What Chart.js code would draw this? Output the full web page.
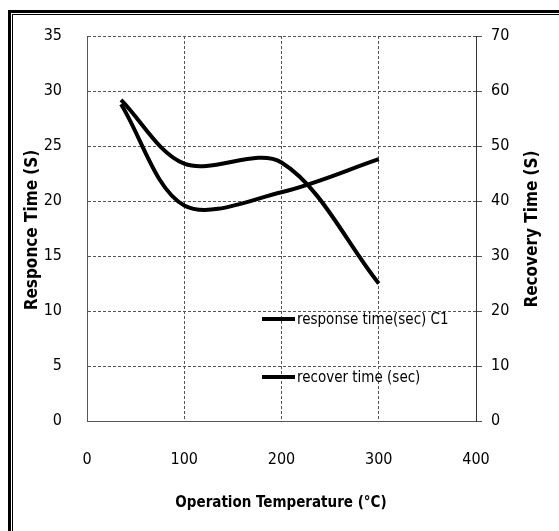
<!DOCTYPE html>
<html>
<head>
<meta charset="utf-8">
<script src="https://cdn.jsdelivr.net/npm/chart.js@4/dist/chart.umd.min.js"></script>
<style>
  body { margin: 0; background: #fff; }
  #wrap { width: 559px; height: 531px; }
</style>
</head>
<body>
<div id="wrap"><canvas id="chart" width="559" height="531"></canvas></div>
<script>
// values
const temperatures = [35, 100, 200, 300];
const responseTimes = [29.2, 23.4, 23.5, 12.5];
const recoveryTimes = [57.6, 39.2, 41.6, 47.6];

const seriesLabels = ['response time(sec) C1', 'recover time (sec)'];
const xTitle = 'Operation Temperature (\u00B0C)';
const leftTitle = 'Responce Time (S)';
const rightTitle = 'Recovery Time (S)';

const fontFamily = "'DejaVu Sans Condensed', sans-serif";
const gridColor = '#555';

function toPoints(xs, ys) {
    return xs.map((x, i) => ({ x: x, y: ys[i] }));
}

// frame, axis titles and the in-plot legend
const decorPlugin = {
    id: 'decor',
    afterDraw(chart) {
        const ctx = chart.ctx;
        ctx.save();
        // double frame on top and left
        ctx.fillStyle = '#000';
        ctx.fillRect(8, 10, 551, 3);
        ctx.fillRect(8, 10, 3, 521);
        ctx.fillRect(12, 14, 547, 1);
        ctx.fillRect(12, 14, 1, 517);

        ctx.fillStyle = '#000';
        ctx.font = 'bold 15px ' + fontFamily;
        ctx.textAlign = 'center';
        ctx.textBaseline = 'middle';
        ctx.fillText(xTitle, 281, 503);

        ctx.font = 'bold 17px ' + fontFamily;
        ctx.save();
        ctx.translate(33, 230);
        ctx.rotate(-Math.PI / 2);
        ctx.fillText(leftTitle, 0, 0);
        ctx.restore();

        ctx.save();
        ctx.translate(533, 229);
        ctx.rotate(-Math.PI / 2);
        ctx.fillText(rightTitle, 0, 0);
        ctx.restore();

        // legend entries inside the plot
        const legendY = [319, 377];
        ctx.font = '15px ' + fontFamily;
        ctx.textAlign = 'left';
        chart.data.datasets.forEach((ds, i) => {
            ctx.strokeStyle = ds.borderColor;
            ctx.lineWidth = 4;
            ctx.beginPath();
            ctx.moveTo(262, legendY[i]);
            ctx.lineTo(295, legendY[i]);
            ctx.stroke();
            ctx.fillText(ds.label, 297, legendY[i] + 1);
        });
        ctx.restore();
    }
};

const ctx = document.getElementById('chart').getContext('2d');
new Chart(ctx, {
    type: 'line',
    data: {
        datasets: [{
            label: seriesLabels[0],
            data: toPoints(temperatures, responseTimes),
            yAxisID: 'y',
            borderColor: '#000',
            borderWidth: 4,
            pointRadius: 0,
            tension: 0.33,
            fill: false
        }, {
            label: seriesLabels[1],
            data: toPoints(temperatures, recoveryTimes),
            yAxisID: 'y1',
            borderColor: '#000',
            borderWidth: 4,
            pointRadius: 0,
            tension: 0.33,
            fill: false
        }]
    },
    options: {
        responsive: false,
        animation: false,
        layout: { padding: { top: 36, left: 0, right: 0, bottom: 0 } },
        plugins: {
            legend: { display: false },
            tooltip: { enabled: false }
        },
        scales: {
            x: {
                type: 'linear',
                min: 0,
                max: 400,
                afterFit: scale => { scale.height = 110; },
                ticks: {
                    stepSize: 100,
                    padding: 29,
                    color: '#000',
                    font: { family: fontFamily, size: 16 }
                },
                grid: {
                    color: gridColor,
                    lineWidth: 1,
                    drawTicks: false
                },
                border: { display: true, color: '#555', width: 1, dash: [3, 2] }
            },
            y: {
                position: 'left',
                min: 0,
                max: 35,
                afterFit: scale => { scale.width = 87; },
                ticks: {
                    stepSize: 5,
                    padding: 25,
                    color: '#000',
                    font: { family: fontFamily, size: 16 }
                },
                grid: {
                    color: gridColor,
                    lineWidth: 1,
                    drawTicks: false
                },
                border: { display: true, color: '#555', width: 1, dash: [3, 2] }
            },
            y1: {
                position: 'right',
                min: 0,
                max: 70,
                afterFit: scale => { scale.width = 83; },
                ticks: {
                    stepSize: 10,
                    padding: 9,
                    color: '#000',
                    font: { family: fontFamily, size: 16 }
                },
                grid: {
                    drawOnChartArea: false,
                    color: '#555',
                    tickLength: 6
                },
                border: { display: true, color: '#333', width: 1 }
            }
        }
    },
    plugins: [decorPlugin]
});
</script>
</body>
</html>
